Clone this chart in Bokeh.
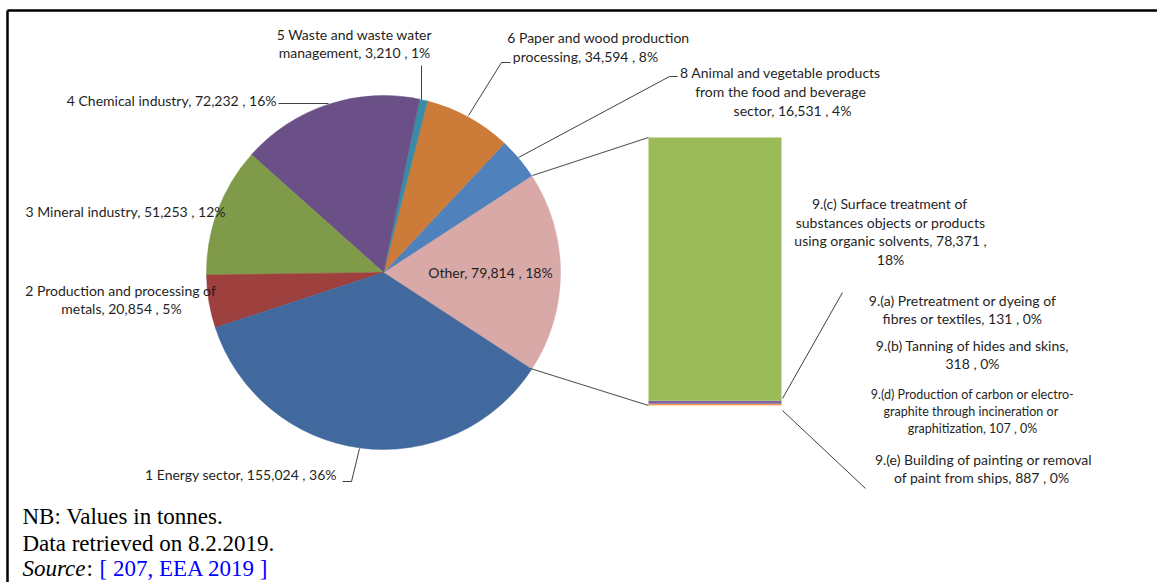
import math
from bokeh.plotting import figure
from bokeh.models import Range1d
from bokeh.core.properties import value
from bokeh.embed import file_html
from bokeh.resources import INLINE

W, H = 1157, 582

# ---------------- data ----------------
sectors = ["1 Energy sector", "2 Production and processing of metals", "3 Mineral industry",
           "4 Chemical industry", "5 Waste and waste water management",
           "6 Paper and wood production processing",
           "8 Animal and vegetable products from the food and beverage sector", "Other"]
sector_values = [155024, 20854, 51253, 72232, 3210, 34594, 16531, 79814]
sector_colors = ["#41699D", "#9E413E", "#7F9A48", "#6A5086", "#3A8BA5", "#CD7B38", "#4F81BD", "#D9A9A8"]

sub_activities = ["9.(a) Pretreatment or dyeing of fibres or textiles",
                  "9.(b) Tanning of hides and skins",
                  "9.(c) Surface treatment of substances objects or products using organic solvents",
                  "9.(d) Production of carbon or electro-graphite through incineration or graphitization",
                  "9.(e) Building of painting or removal of paint from ships"]
sub_values = [131, 318, 78371, 107, 887]
sub_colors = ["#4BACC6", "#F79646", "#9BBB59", "#FAC090", "#8064A2"]

# label texts (as printed in the chart)
label_lines = {
    "5": ["5 Waste and waste water", "management, 3,210 , 1%"],
    "6": ["6 Paper and wood production", "processing, 34,594 , 8%"],
    "8": ["8 Animal and vegetable products", "from the food and beverage", "sector, 16,531 , 4%"],
    "4": ["4 Chemical industry, 72,232 , 16%"],
    "3": ["3 Mineral industry, 51,253 , 12%"],
    "2": ["2 Production and processing of", "metals, 20,854 , 5%"],
    "1": ["1 Energy sector, 155,024  , 36%"],
    "O": ["Other, 79,814 , 18%"],
    "9c": ["9.(c) Surface treatment of", "substances objects or products", "using organic solvents, 78,371 ,", "18%"],
    "9a": ["9.(a) Pretreatment or dyeing of", "fibres or textiles, 131 , 0%"],
    "9b": ["9.(b) Tanning of hides and skins,", "318 , 0%"],
    "9d": ["9.(d) Production of carbon or electro-", "graphite through  incineration or", "graphitization, 107 , 0%"],
    "9e": ["9.(e) Building of painting or removal", "of paint from ships,  887 , 0%"],
}
notes = ["NB: Values in tonnes.", "Data retrieved on 8.2.2019."]


def Y(py):
    return H - py


p = figure(width=W, height=H, x_range=Range1d(0, W), y_range=Range1d(0, H),
           min_border=0, toolbar_location=None, output_backend="svg",
           x_axis_location=None, y_axis_location=None)
p.grid.visible = False
p.outline_line_color = None
p.background_fill_color = "white"
p.border_fill_color = "white"

# ---------------- pie ----------------
cx, cy, r = 383, Y(272), 177
total = sum(sector_values)
order = [7, 6, 5, 4, 3, 2, 1, 0]  # counter-clockwise starting with "Other" centred on the right
ang = -sector_values[7] / total * math.pi
starts, ends, cols = [], [], []
for i in order:
    a2 = ang + sector_values[i] / total * 2 * math.pi
    starts.append(ang)
    ends.append(a2)
    cols.append(sector_colors[i])
    ang = a2
p.wedge(x=cx, y=cy, radius=r, start_angle=starts, end_angle=ends,
        fill_color=cols, line_color=cols, line_width=0.5)

# ---------------- stacked bar ----------------
bar_bottom_px, bar_top_px = 405, 137
sub_total = sum(sub_values)
k = sub_total / (bar_bottom_px - bar_top_px)
start = -Y(bar_bottom_px) * k
p.extra_y_ranges = {"bar": Range1d(start, start + H * k)}
stack_order = [3, 1, 0, 4, 2]
bottoms, tops, bcols = [], [], []
acc = 0
for i in stack_order:
    bottoms.append(acc)
    acc += sub_values[i]
    tops.append(acc)
    bcols.append(sub_colors[i])
p.vbar(x=714.5, width=133, bottom=bottoms, top=tops, fill_color=bcols, line_color=None,
       y_range_name="bar")

# ---------------- leader lines ----------------
leaders = [
    [(421, 65), (421, 99)],
    [(510, 62), (501, 62), (468, 115)],
    [(677, 76), (669, 76), (518, 157)],
    [(278, 103), (328, 103)],
    [(342, 481), (351, 481), (359, 448)],
    [(842, 292), (782, 398)],
    [(782, 410), (865, 488)],
]
p.multi_line(xs=[[a for a, b in L] for L in leaders], ys=[[Y(b) for a, b in L] for L in leaders],
             line_color="#404040", line_width=1)
connectors = [[(532, 175), (648, 137)], [(530, 368), (648, 405)]]
p.multi_line(xs=[[a for a, b in L] for L in connectors], ys=[[Y(b) for a, b in L] for L in connectors],
             line_color="#595959", line_width=1.2)

# frame
p.multi_line(xs=[[7, W], [7, 7]], ys=[[Y(10), Y(10)], [Y(10), Y(H)]], line_color="black", line_width=2.5)

# ---------------- labels ----------------
label_pos = {
    "5": ([354, 354], 34, 18, "center", 14),
    "6": ([598, 585], 37, 19, "center", 14),
    "8": ([780, 780, 792], 72, 19, "center", 14),
    "4": ([276], 100, 18, "right", 14),
    "3": ([25], 211, 18, "left", 14),
    "2": ([120, 121], 290, 18, "center", 14),
    "1": ([340], 474, 18, "right", 14),
    "O": ([490], 272, 18, "center", 14),
    "9c": ([889, 890, 890, 890], 203, 18.5, "center", 14),
    "9a": ([962, 962], 300, 18, "center", 14),
    "9b": ([972, 972], 345, 18, "center", 14),
    "9d": ([972, 972, 972], 394, 17, "center", 12.5),
    "9e": ([983, 983], 459, 18, "center", 14),
}
groups = {}
for key, lines in label_lines.items():
    xs, y0, step, align, size = label_pos[key]
    for j, t in enumerate(lines):
        g = groups.setdefault((align, size), {"x": [], "y": [], "t": []})
        g["x"].append(xs[j])
        g["y"].append(Y(y0 + j * step))
        g["t"].append(t)
for (align, size), g in groups.items():
    p.text(x=g["x"], y=g["y"], text=g["t"], text_align=align, text_baseline="middle",
           text_font=value("Lato"), text_font_size=f"{size}px", text_color="#1F1F1F")

# ---------------- notes below chart ----------------
fs = "23px"
p.text(x=[22, 22], y=[Y(516), Y(543)], text=notes, text_baseline="middle",
       text_font=value("Liberation Serif"), text_font_size=fs, text_color="black")
p.text(x=[22], y=[Y(568)], text=["Source"], text_baseline="middle", text_font_style="italic",
       text_font=value("Liberation Serif"), text_font_size=fs, text_color="black")
p.text(x=[86], y=[Y(568)], text=[":"], text_baseline="middle",
       text_font=value("Liberation Serif"), text_font_size=fs, text_color="black")
p.text(x=[99], y=[Y(568)], text=["[ 207, EEA 2019 ]"], text_baseline="middle",
       text_font=value("Liberation Serif"), text_font_size=fs, text_color="#0000FF")

open("out.html", "w").write(file_html(p, INLINE))
